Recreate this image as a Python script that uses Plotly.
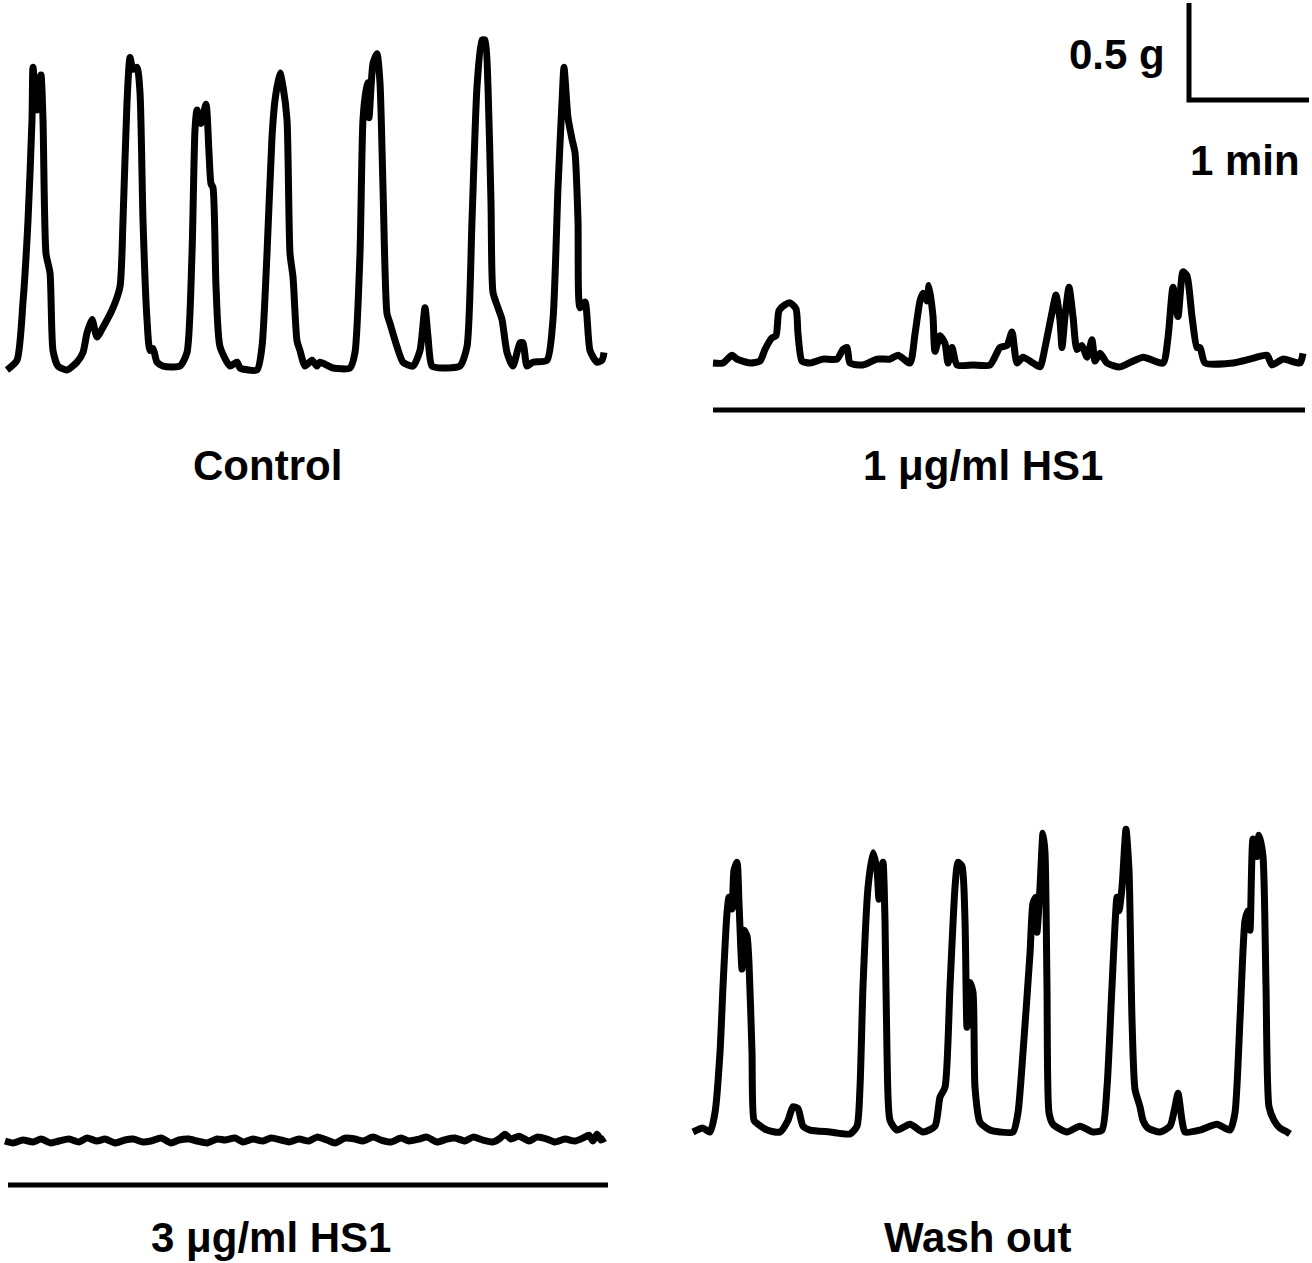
import plotly.graph_objects as go

# ---------------- data (time in s, tension in g, relative to baseline) ----------------
control_t = [0, 5, 8, 10.5, 12.5, 13, 15, 17, 18, 19.5, 21.5, 23, 25.5, 30, 35, 38, 40, 42.5, 45, 48,
             53, 56.5, 58, 60, 61.5, 63, 65, 66.5, 68, 70, 71.5, 73, 75, 78, 86.5, 90, 92.5, 94, 95, 97,
             99.5, 101, 102, 103, 104.5, 106.5, 111.5, 115, 116.5, 125, 127.5, 130, 132.5, 134, 136.5, 138,
             140, 141.5, 143, 145, 146.5, 149, 152.5, 155, 156.5, 163, 171.5, 174, 176.5, 178, 180, 181,
             183, 185, 186.5, 188, 190, 191.5, 195, 198, 203, 206.5, 209, 210.5, 212.5, 218, 226.5, 230,
             232.5, 235, 237.5, 239, 240.5, 242, 243, 245.5, 247.5, 250, 253, 256.5, 258, 260, 263, 270,
             273, 275.5, 277.5, 278.5, 280.5, 282.5, 284, 285.5, 286.5, 289, 291.5, 295, 297.5, 298.5]
control_g = [-0.01, 0.04, 0.34, 0.76, 1.28, 1.55, 1.33, 1.51, 1.28, 0.59, 0.49, 0.09, 0.01, -0.01, 0.03,
             0.08, 0.18, 0.25, 0.16, 0.21, 0.31, 0.42, 0.76, 1.37, 1.60, 1.54, 1.55, 1.42, 0.76, 0.25,
             0.09, 0.10, 0.03, 0.01, 0.01, 0.08, 0.59, 1.23, 1.33, 1.26, 1.36, 1.11, 0.95, 0.93, 0.42,
             0.11, 0.01, 0.03, 0.0, -0.01, 0.11, 0.59, 1.19, 1.38, 1.52, 1.45, 1.28, 0.59, 0.47, 0.14,
             0.09, 0.01, 0.04, 0.01, 0.03, 0.0, 0.0, 0.08, 0.59, 1.28, 1.47, 1.29, 1.57, 1.62, 1.47, 0.93,
             0.28, 0.23, 0.11, 0.03, 0.01, 0.09, 0.31, 0.16, 0.01, 0.0, 0.01, 0.11, 0.76, 1.45, 1.69,
             1.69, 1.45, 0.85, 0.39, 0.31, 0.25, 0.08, 0.01, 0.13, 0.13, 0.01, 0.03, 0.04, 0.25, 0.93,
             1.37, 1.55, 1.29, 1.18, 1.11, 0.76, 0.31, 0.34, 0.09, 0.03, 0.04, 0.08]

hs1_1_t = [0, 5, 9.5, 12, 18.5, 23.5, 26, 29.5, 31.5, 33, 36, 38.5, 41.5, 42.5, 44.5, 48.5, 55, 62, 65,
           67, 68.5, 75, 82, 88.5, 92.5, 98.5, 101, 103.5, 105, 107, 108, 110, 111, 113.5, 116, 117.5,
           119.5, 122, 130, 138.5, 143.5, 147, 149.5, 152, 155, 160, 163.5, 166, 169.5, 171.5, 173.5,
           174.5, 176, 178, 180, 182, 184.5, 187, 189.5, 191, 193.5, 197, 203.5, 215, 225, 227.5, 230,
           232.5, 235, 237, 239.5, 242, 243.5, 246, 260, 268.5, 277, 279.5, 285, 293.5, 295]
hs1_1_g = [0, 0, 0.04, 0.02, 0, 0.01, 0.07, 0.13, 0.14, 0.27, 0.30, 0.31, 0.28, 0.15, 0.01, 0, 0.02,
           0.02, 0.07, 0.08, 0, -0.01, 0.02, 0.02, 0.04, 0, 0.15, 0.32, 0.36, 0.32, 0.40, 0.24, 0.06,
           0.14, 0.10, 0, 0.08, -0.01, -0.01, -0.01, 0.08, 0.09, 0.16, 0, 0.03, 0, -0.02, 0.08, 0.26,
           0.35, 0.22, 0.08, 0.24, 0.39, 0.24, 0.07, 0.09, 0.03, 0.12, 0.01, 0.05, 0, -0.02, 0.03, 0,
           0.13, 0.39, 0.24, 0.47, 0.45, 0.24, 0.08, 0.08, 0, 0, 0.02, 0.04, -0.01, 0.02, 0, 0.05]

hs1_3_t = [0, 4, 9, 14, 18, 23, 27, 32, 37, 41, 46, 50, 55, 60, 64, 69, 73, 78, 83, 87,
           92, 96, 101, 106, 110, 115, 119, 124, 129, 133, 138, 142, 147, 152, 156, 161, 165, 170, 175, 179,
           184, 188, 193, 198, 202, 207, 211, 216, 221, 225, 230, 234, 239, 244, 247, 250, 253, 257, 262, 266,
           271, 275, 280, 285, 289, 292, 294, 296, 298, 300]
hs1_3_g = [0, -0.01, 0.005, -0.005, 0.01, -0.01, 0.0, 0.01, -0.005, 0.015,
           0.0, 0.01, -0.01, 0.005, 0.01, -0.005, 0.0, 0.015, -0.01, 0.005,
           0.01, 0.0, -0.01, 0.01, 0.005, 0.015, -0.005, 0.01, 0.0, 0.015,
           0.005, -0.005, 0.01, 0.0, 0.02, 0.005, -0.01, 0.015, 0.01, 0.0,
           0.02, 0.005, -0.005, 0.015, 0.0, 0.01, 0.02, -0.005, 0.01, 0.015,
           0.0, 0.02, 0.005, -0.005, 0.01, 0.035, 0.01, 0.025, 0.0, 0.02,
           0.01, -0.005, 0.01, 0.0, 0.015, 0.03, 0.0, 0.035, 0.005, 0.015]

wash_t = [0, 5, 8.5, 11, 13.5, 15, 17, 18, 19.5, 20.5, 22, 23, 24.5, 25.5, 27, 28, 29.5, 30.5, 32.5, 37,
          43.5, 47.5, 50, 52.5, 55, 58.5, 68.5, 78.5, 82, 83.5, 85, 87.5, 90, 92, 93, 95, 96, 97, 98.5,
          102, 108.5, 115, 121, 123.5, 126, 128.5, 131, 132.5, 134.5, 136, 137, 138.5, 140, 141, 143.5,
          148.5, 153.5, 160, 162.5, 165, 168.5, 170, 171.5, 172, 173.5, 175, 176, 177, 178, 180, 187,
          193.5, 200, 204.5, 207, 209.5, 212, 213, 214.5, 216.5, 218, 219.5, 221, 223.5, 225, 227.5,
          233.5, 238.5, 241, 242.5, 244.5, 246, 253.5, 262, 268.5, 271, 273.5, 276, 277.5, 278.5, 280,
          282, 283, 285, 286.5, 288, 290.5, 293.5, 297, 298.5]
wash_g = [0, 0.02, 0, 0.10, 0.41, 0.75, 1.13, 1.21, 1.15, 1.35, 1.39, 1.18, 0.84, 1.04, 1.01, 0.87, 0.41,
          0.06, 0.04, 0.01, 0, 0.06, 0.13, 0.12, 0.03, 0.01, 0, -0.01, 0.03, 0.23, 0.75, 1.26, 1.44, 1.35,
          1.20, 1.39, 1.09, 0.41, 0.06, 0.01, 0.04, 0, 0.03, 0.18, 0.23, 0.75, 1.26, 1.39, 1.37, 1.09,
          0.54, 0.77, 0.72, 0.23, 0.05, 0.01, 0, 0, 0.10, 0.41, 0.92, 1.18, 1.21, 1.03, 1.26, 1.54, 1.44,
          0.75, 0.10, 0.04, 0, 0.03, 0, 0.01, 0.23, 0.75, 1.21, 1.14, 1.26, 1.56, 1.35, 0.58, 0.22, 0.13,
          0.06, 0.02, 0, 0.03, 0.13, 0.20, 0.06, 0, 0.01, 0.04, 0.01, 0.10, 0.58, 1.09, 1.14, 1.04, 1.51,
          1.42, 1.53, 1.42, 0.75, 0.13, 0.06, 0.02, 0, -0.01]

panel_labels = ["Control", "1 μg/ml HS1", "3 μg/ml HS1", "Wash out"]
scale_g = 0.5      # vertical scale bar, g
scale_s = 60       # horizontal scale bar, s (1 min)
scale_labels = ["0.5 g", "1 min"]

# ---------------- layout helpers ----------------
W, H = 1312, 1263
PX_PER_S = 2.0
PX_PER_G = 194.0

def axes(L, R, T, B, x0, yb):
    xa = dict(domain=[L / W, R / W], range=[(L - x0) / PX_PER_S, (R - x0) / PX_PER_S],
              visible=False, fixedrange=True)
    ya = dict(domain=[1 - B / H, 1 - T / H], range=[(yb - B) / PX_PER_G, (yb - T) / PX_PER_G],
              visible=False, fixedrange=True)
    return xa, ya

fig = go.Figure()
line = dict(color="black", width=7)
panels = [
    (control_t, control_g, axes(0, 650, 0, 420, 7, 368)),
    (hs1_1_t, hs1_1_g, axes(656, 1312, 0, 420, 713, 363)),
    (hs1_3_t, hs1_3_g, axes(0, 650, 600, 1200, 5, 1141)),
    (wash_t, wash_g, axes(656, 1312, 600, 1200, 693, 1132)),
]
layout_axes = {}
for i, (t, g, (xa, ya)) in enumerate(panels, start=1):
    sfx = "" if i == 1 else str(i)
    fig.add_trace(go.Scatter(x=t, y=g, mode="lines", line=line, xaxis="x" + sfx, yaxis="y" + sfx,
                             line_shape="spline", line_smoothing=0.6, hoverinfo="skip", showlegend=False))
    layout_axes["xaxis" + sfx] = dict(xa, anchor="y" + sfx)
    layout_axes["yaxis" + sfx] = dict(ya, anchor="x" + sfx)

# scale bar (drawn in panel 2 coordinates)
sb_t0 = 238
sb_g0 = 1.356
fig.add_trace(go.Scatter(x=[sb_t0, sb_t0, sb_t0 + scale_s], y=[sb_g0 + scale_g, sb_g0, sb_g0],
                         mode="lines", line=dict(color="black", width=5), xaxis="x2", yaxis="y2",
                         hoverinfo="skip", showlegend=False))

# drug application bars
shapes = [
    dict(type="line", xref="x2", yref="y2", x0=0, x1=296, y0=-0.242, y1=-0.242,
         line=dict(color="black", width=5)),
    dict(type="line", xref="x3", yref="y3", x0=1.5, x1=301.5, y0=-0.227, y1=-0.227,
         line=dict(color="black", width=5)),
]

font = dict(family="Liberation Sans, Arial, Helvetica, sans-serif", size=42, color="black")
label_pos = [(267, 465), (983, 465), (271, 1237), (977, 1237)]
annotations = []
for txt, (px, py) in zip(panel_labels, label_pos):
    annotations.append(dict(text="<b>" + txt + "</b>", x=px / W, y=1 - py / H, xref="paper", yref="paper",
                            showarrow=False, xanchor="center", yanchor="middle", font=font))
annotations.append(dict(text="<b>" + scale_labels[0] + "</b>", x=1167 / W, y=1 - 54 / H, xref="paper",
                        yref="paper", showarrow=False, xanchor="right", yanchor="middle", font=font))
annotations.append(dict(text="<b>" + scale_labels[1] + "</b>", x=1302 / W, y=1 - 160 / H, xref="paper",
                        yref="paper", showarrow=False, xanchor="right", yanchor="middle", font=font))

fig.update_layout(width=W, height=H, margin=dict(l=0, r=0, t=0, b=0), paper_bgcolor="white",
                  plot_bgcolor="rgba(0,0,0,0)", shapes=shapes, annotations=annotations, **layout_axes)
fig.write_html("out.html", config={"displayModeBar": False},
               post_script="document.body.style.margin='0';document.body.style.overflow='hidden';")
